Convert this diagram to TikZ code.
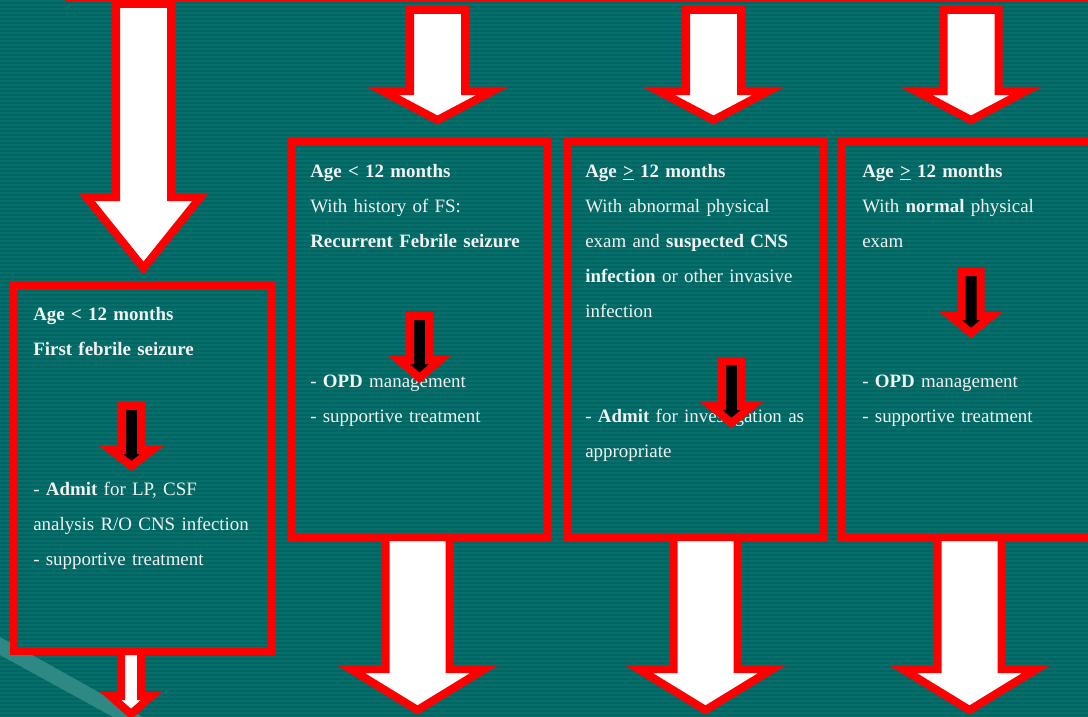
\documentclass[tikz,border=0pt]{standalone}
\usepackage{fontspec}
\setmainfont{Liberation Serif}

\definecolor{slide}{RGB}{0,102,99}
\definecolor{slideline}{RGB}{8,110,106}
\definecolor{slideglow}{RGB}{46,136,131}
\definecolor{boxred}{RGB}{255,0,0}
\definecolor{slidetext}{RGB}{242,242,242}

% block arrow: [style] {centre x}{top}{shaft half}{neck}{head half}{tip}
\newcommand{\blockarrow}[7][bigarrow]{%
  \draw[#1] ({#2-#4},#3) -- ({#2+#4},#3) -- ({#2+#4},#5) -- ({#2+#6},#5)
    -- (#2,#7) -- ({#2-#6},#5) -- ({#2-#4},#5) -- cycle;}

\begin{document}
\begin{tikzpicture}[x=0.75pt,y=-0.75pt,
    bigarrow/.style={draw=boxred,fill=white,line width=6pt},
    smallarrow/.style={draw=boxred,fill=black,line width=6pt},
    flowbox/.style={draw=boxred,line width=6pt,rectangle,inner sep=0pt,outer sep=0pt},
    txt/.style={text=slidetext,anchor=base west,align=left,text width=185pt,inner sep=0pt,
        font=\fontsize{14.2}{26.25}\selectfont}]

        \useasboundingbox (0,0) rectangle (1088,717);

        % slide background
        \fill[slide] (0,0) rectangle (1088,717);
        \foreach \s in {0,4,...,716}
            \fill[slideline] (0,\s) rectangle (1088,\s+2);
        \fill[slideglow] (0,637) -- (143,717) -- (113,717) -- (0,655) -- cycle;

        \draw[boxred,line width=4.5pt] (66,-2) -- (1100,-2);

        \begin{scope}[every node/.style={flowbox}]
            \node[minimum width=192.75pt,minimum height=274.5pt] (first) at (142.5,468) {};
            \node[minimum width=192pt,minimum height=296.25pt] (recur) at (419,339.5) {};
            \node[minimum width=192.75pt,minimum height=296.25pt] (abnormal) at (695.5,339.5) {};
            \node[minimum width=201pt,minimum height=296.25pt] (normal) at (976,339.5) {};
        \end{scope}

        % arrows in and out of the boxes
        \blockarrow{143.5}{4}{27.5}{197}{57}{268}
        \blockarrow{437.5}{10}{27.5}{91}{55}{120}
        \blockarrow{713.5}{10}{27.5}{91}{55}{120}
        \blockarrow{971}{10}{27.5}{91}{55}{120}
        \blockarrow{417.5}{537}{32}{669}{67}{710}
        \blockarrow{705.5}{537}{32}{669}{67}{710}
        \blockarrow{969.5}{537}{32}{669}{67}{710}
        \blockarrow{131}{651}{10}{696}{20.5}{714}

        \begin{scope}[every node/.style={txt}]
            \node (firsttxt) at (33,320) {\textbf{Age < 12 months}\\
                \textbf{First febrile seizure}\\[78.75pt]
                - \textbf{Admit} for LP, CSF\\
                analysis R/O CNS infection\\
                - supportive treatment};
            \node (recurtxt) at (310,177) {\textbf{Age < 12 months}\\
                With history of FS:\\
                \textbf{Recurrent Febrile seizure}\\[78.75pt]
                - \textbf{OPD} management\\
                - supportive treatment};
            \node (abnormaltxt) at (585,177) {\textbf{Age \underline{>} 12 months}\\
                With abnormal physical\\
                exam and \textbf{suspected CNS}\\
                \textbf{infection} or other invasive\\
                infection\\[52.5pt]
                - \textbf{Admit} for investigation as\\
                appropriate};
            \node (normaltxt) at (862,177) {\textbf{Age \underline{>} 12 months}\\
                With \textbf{normal} physical\\
                exam\\[78.75pt]
                - \textbf{OPD} management\\
                - supportive treatment};
        \end{scope}

        % small arrows inside the boxes
        \blockarrow[smallarrow]{131.5}{406}{9.5}{450}{20.5}{466}
        \blockarrow[smallarrow]{419.5}{316}{9.5}{360}{20.5}{378}
        \blockarrow[smallarrow]{731.5}{361}{9.5}{406}{20.5}{423}
        \blockarrow[smallarrow]{971}{272}{9.5}{316}{20.5}{333}
    \end{tikzpicture}
\end{document}
